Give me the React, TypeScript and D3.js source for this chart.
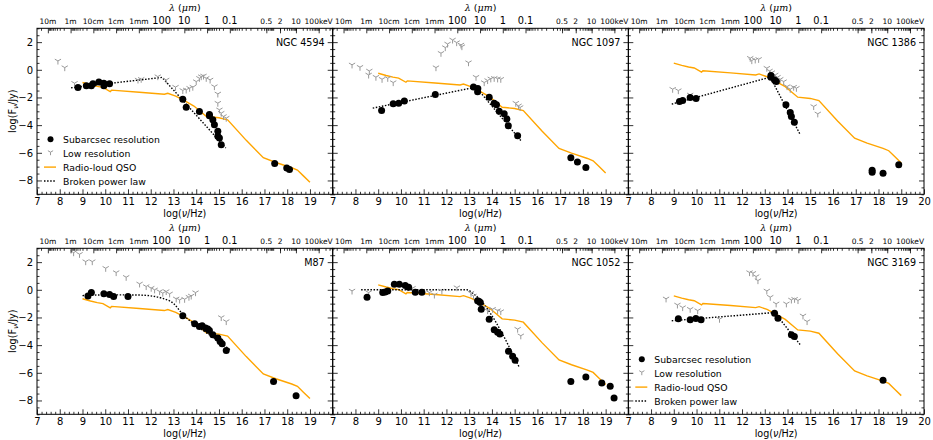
import React, { useEffect, useRef } from 'react';
import * as d3 from 'd3';

type Pt = [number, number];

// radio-loud QSO template (log nu, log F), shifted per panel
const qsoTemplate: Pt[] = [
  [9.0, -0.92], [9.35, -1.08], [9.65, -1.2], [9.9, -1.27], [10.22, -1.57], [10.28, -1.47],
  [11.5, -1.62], [12.6, -1.77], [12.75, -1.7], [13.1, -1.9], [13.5, -2.25], [13.9, -2.62],
  [14.45, -3.38], [15.0, -3.47], [15.38, -3.62], [16.2, -5.1], [16.95, -6.35], [17.5, -6.7],
  [18.2, -7.08], [18.45, -7.25], [18.7, -7.65], [19.0, -8.13]
];

const ngc4594Dots: Pt[] = [
  [8.8, -1.28], [9.17, -1.16], [9.39, -1.16], [9.46, -1.01], [9.72, -0.89], [9.94, -0.97],
  [9.94, -1.16], [10.19, -1.01], [13.41, -2.12], [13.56, -2.7], [14.14, -3.01], [14.58, -3.23],
  [14.58, -3.32], [14.73, -3.61], [14.8, -3.97], [14.95, -4.45], [14.95, -4.81], [15.02, -4.93],
  [15.1, -5.41], [17.45, -6.78], [17.98, -7.1], [18.1, -7.2]
];
const ngc4594Low: Pt[] = [
  [7.92, 0.64], [8.22, 0.16], [8.65, -0.97], [11.44, -0.73], [11.58, -0.68], [12.31, -0.49],
  [12.68, -0.73], [13.09, -1.25], [13.41, -1.49], [13.56, -1.45], [13.71, -1.33], [13.85, -1.25],
  [14.0, -0.85], [14.14, -0.61], [14.22, -0.49], [14.32, -0.44], [14.44, -0.61], [14.61, -0.73],
  [14.8, -1.21], [14.95, -1.74], [14.95, -2.41], [15.02, -2.89], [15.1, -3.13], [15.2, -3.37],
  [15.32, -3.49]
];
const ngc4594Bpl: Pt[] = [[8.5, -1.3], [12.5, -0.55], [15.3, -5.65]];

const ngc1097Dots: Pt[] = [
  [9.15, -2.94], [9.66, -2.46], [9.9, -2.41], [10.15, -2.26], [11.51, -1.78], [13.19, -1.25],
  [13.38, -1.35], [13.37, -1.59], [13.88, -1.98], [14.1, -2.41], [14.2, -2.53], [14.32, -2.99],
  [14.54, -3.18], [14.66, -3.56], [14.72, -4.04], [15.13, -4.76], [17.47, -6.35], [17.76, -6.66],
  [18.13, -7.07]
];
const ngc1097Low: Pt[] = [
  [7.85, 0.36], [8.2, 0.19], [8.61, -0.08], [8.58, -0.37], [8.9, -0.53], [9.17, -0.68],
  [9.42, -0.61], [9.66, -0.92], [11.54, 0.16], [11.76, 1.2], [11.95, 1.61], [12.05, 1.87],
  [12.27, 2.16], [12.45, 1.97], [12.64, 1.8], [12.68, 1.68], [12.97, 0.52], [13.3, -0.53],
  [13.66, -0.92], [13.81, -0.77], [13.95, -0.65], [14.1, -0.61], [14.25, -0.65], [14.39, -0.68],
  [15.05, -2.41], [15.17, -2.6], [15.24, -2.72]
];
const ngc1097Bpl: Pt[] = [[8.76, -2.77], [13.3, -1.25], [15.3, -5.17]];

const ngc1386Dots: Pt[] = [
  [9.25, -2.29], [9.39, -2.22], [9.72, -2.0], [9.98, -2.07], [13.27, -0.41], [13.27, -0.53],
  [13.43, -0.73], [13.51, -0.85], [13.93, -2.53], [14.12, -3.08], [14.17, -3.37], [14.3, -3.8],
  [17.72, -7.26], [17.72, -7.41], [18.2, -7.48], [18.89, -6.86]
];
const ngc1386Low: Pt[] = [
  [8.95, -1.4], [9.2, -1.5], [9.72, -1.81], [12.36, 0.84], [12.43, 0.67], [12.58, 0.72],
  [12.73, 0.76], [13.09, 0.12], [13.21, -0.08], [13.31, -0.2], [13.46, -0.37], [13.56, -0.53],
  [13.68, -0.68], [13.83, -0.85], [13.98, -1.21], [14.12, -1.4], [14.27, -1.25], [14.39, -1.33],
  [15.15, -2.65], [15.33, -3.18]
];
const ngc1386Bpl: Pt[] = [[8.91, -2.48], [13.24, -0.53], [14.56, -4.69]];

const m87Dots: Pt[] = [
  [9.24, -0.44], [9.39, -0.2], [9.94, -0.29], [10.19, -0.34], [10.37, -0.49], [11.0, -0.49],
  [13.41, -1.88], [13.93, -2.46], [14.14, -2.65], [14.26, -2.6], [14.41, -2.77], [14.51, -2.84],
  [14.58, -2.94], [14.73, -3.25], [14.95, -3.49], [15.05, -3.73], [15.14, -3.9], [15.32, -4.38],
  [17.4, -6.62], [18.39, -7.65]
];
const m87Low: Pt[] = [
  [8.61, 2.69], [8.87, 2.57], [9.14, 2.04], [9.43, 2.04], [10.02, 1.56], [10.48, 1.25],
  [10.92, 0.91], [11.51, 0.43], [11.8, 0.24], [12.02, 0.12], [12.17, 0.0], [12.39, -0.12],
  [12.53, -0.24], [12.68, -0.12], [12.83, -0.29], [13.12, -0.65], [13.27, -0.73], [13.49, -0.68],
  [13.68, -0.53], [13.78, -0.44], [13.97, -0.2], [15.1, -2.0], [15.32, -2.29]
];
const m87Bpl: Pt[] = [
  [9.0, -0.42], [10.0, -0.37], [11.0, -0.37], [11.5, -0.38], [12.0, -0.44], [12.5, -0.61],
  [13.0, -0.98], [13.4, -1.76], [14.1, -2.7], [14.8, -3.5], [15.5, -4.35]
];

const ngc1052Dots: Pt[] = [
  [8.51, -0.53], [9.2, -0.2], [9.31, -0.15], [9.42, -0.08], [9.71, 0.4], [9.93, 0.4],
  [10.19, 0.31], [10.34, 0.19], [10.63, -0.17], [10.92, -0.17], [13.37, -0.8], [13.44, -0.85],
  [13.49, -0.92], [13.53, -1.4], [13.88, -2.12], [14.1, -2.89], [14.25, -3.06], [14.35, -3.2],
  [14.73, -4.45], [14.91, -4.81], [15.02, -5.1], [17.47, -6.62], [18.13, -6.3], [18.83, -6.74],
  [19.2, -6.98], [19.37, -7.82]
];
const ngc1052Low: Pt[] = [
  [7.85, -0.08], [8.58, -0.2], [10.51, 0.12], [11.25, -0.2], [11.47, -0.37], [11.8, -0.08],
  [12.46, 0.16], [13.08, -0.24], [13.19, -0.44], [13.59, -1.33], [13.81, -1.5], [14.03, -1.4],
  [14.25, -1.5], [14.39, -1.57], [15.13, -2.84], [15.27, -3.32]
];
const ngc1052Bpl: Pt[] = [[8.25, 0.0], [12.9, 0.0], [13.2, -0.3], [15.2, -5.6]];

const ngc3169Dots: Pt[] = [
  [9.2, -2.1], [9.72, -2.17], [9.97, -2.07], [10.2, -2.17], [13.43, -1.69], [13.58, -2.05],
  [14.17, -3.25], [14.3, -3.37], [18.2, -6.54]
];
const ngc3169Low: Pt[] = [
  [8.66, -0.65], [9.16, -1.09], [9.39, -1.28], [9.72, -1.4], [10.05, -1.5], [11.01, -2.12],
  [12.33, 1.25], [12.48, 1.2], [12.62, 0.96], [12.7, 0.67], [13.09, -0.08], [13.24, -0.53],
  [13.5, -1.01], [13.95, -1.01], [14.17, -0.73], [14.31, -0.68], [14.46, -0.77], [14.68, -1.88],
  [14.86, -2.29]
];
const ngc3169Bpl: Pt[] = [[8.91, -2.24], [13.43, -1.64], [14.56, -3.97]];

const panelNames = ['NGC 4594', 'NGC 1097', 'NGC 1386', 'M87', 'NGC 1052', 'NGC 3169'];
const qsoOffsets = [0, 0.67, 1.4, 0.27, 1.28, 0.48];

// top axis: wavelengths (m) and energies (keV)
const lambdaValues = [10, 1, 0.1, 0.01, 0.001, 1e-4, 1e-5, 1e-6, 1e-7];
const lambdaLabels = ['10m', '1m', '10cm', '1cm', '1mm', '100', '10', '1', '0.1'];
const lambdaBig = [false, false, false, false, false, true, true, true, true];
const energyValues = [0.5, 2, 10, 100];
const energyLabels = ['0.5', '2', '10', '100keV'];

const legendLabels = ['Subarcsec resolution', 'Low resolution', 'Radio-loud QSO', 'Broken power law'];

const W = 933;
const H = 440;
const FONT = 'DejaVu Sans, sans-serif';
const ORANGE = '#ffa500';
const GRAY = '#999999';

const nuFromLambda = (l: number) => Math.log10(2.998e8 / l);
const nuFromKeV = (e: number) => Math.log10(e * 2.418e17);

const App: React.FC = () => {
  const svgRef = useRef<SVGSVGElement>(null);

  useEffect(() => {
    if (!svgRef.current) return;
    const svg = d3.select(svgRef.current);
    svg.selectAll('*').remove();

    const colX = [37, 332.7, 628.3];
    const rowY = [28.3, 248.3];
    const pw = 295.7;
    const ph = 166;

    const panels = [
      { dots: ngc4594Dots, low: ngc4594Low, bpl: ngc4594Bpl, smooth: false, legend: true },
      { dots: ngc1097Dots, low: ngc1097Low, bpl: ngc1097Bpl, smooth: false, legend: false },
      { dots: ngc1386Dots, low: ngc1386Low, bpl: ngc1386Bpl, smooth: false, legend: false },
      { dots: m87Dots, low: m87Low, bpl: m87Bpl, smooth: true, legend: false },
      { dots: ngc1052Dots, low: ngc1052Low, bpl: ngc1052Bpl, smooth: true, legend: false },
      { dots: ngc3169Dots, low: ngc3169Low, bpl: ngc3169Bpl, smooth: false, legend: true }
    ];

    const triDown = (cx: number, cy: number, r: number) =>
      `M${cx},${cy}L${cx},${cy + r}M${cx},${cy}L${cx - r * 0.866},${cy - r * 0.5}M${cx},${cy}L${cx + r * 0.866},${cy - r * 0.5}`;

    // minor tick positions for top axis
    const topMinor: number[] = [];
    for (let n = -8; n <= 1; n++) {
      for (let k = 2; k <= 9; k++) topMinor.push(nuFromLambda(k * Math.pow(10, n)));
    }
    for (let n = -1; n <= 2; n++) {
      for (let k = 1; k <= 9; k++) topMinor.push(nuFromKeV(k * Math.pow(10, n)));
    }

    panels.forEach((p, i) => {
      const col = i % 3;
      const row = Math.floor(i / 3);
      const left = colX[col];
      const top = rowY[row];
      const x = d3.scaleLinear().domain([7, 20]).range([left, left + pw]);
      const y = d3.scaleLinear().domain([-9, 3]).range([top + ph, top]);
      const g = svg.append('g');

      // clip
      const clipId = `clip${i}`;
      g.append('clipPath').attr('id', clipId)
        .append('rect').attr('x', left).attr('y', top).attr('width', pw).attr('height', ph);
      const plot = g.append('g').attr('clip-path', `url(#${clipId})`);

      const line = d3.line<Pt>().x(d => x(d[0])).y(d => y(d[1]));

      const qso = qsoTemplate.map(d => [d[0], d[1] + qsoOffsets[i]] as Pt);
      plot.append('path').attr('d', line(qso)).attr('fill', 'none')
        .attr('stroke', ORANGE).attr('stroke-width', 1.4);

      const bplLine = d3.line<Pt>().x(d => x(d[0])).y(d => y(d[1]))
        .curve(p.smooth ? d3.curveMonotoneX : d3.curveLinear);
      plot.append('path').attr('d', bplLine(p.bpl)).attr('fill', 'none')
        .attr('stroke', '#000').attr('stroke-width', 1.4).attr('stroke-dasharray', '1.5,1.6');

      plot.selectAll('.low').data(p.low).enter().append('path')
        .attr('d', d => triDown(x(d[0]), y(d[1]), 3.6))
        .attr('stroke', GRAY).attr('stroke-width', 1).attr('fill', 'none');

      plot.selectAll('.dot').data(p.dots).enter().append('circle')
        .attr('cx', d => x(d[0])).attr('cy', d => y(d[1])).attr('r', 3.5).attr('fill', '#000');

      // axes
      const styleAxis = (sel: any, fs: number) => {
        sel.select('.domain').remove();
        sel.selectAll('line').attr('stroke', '#000').attr('stroke-width', 0.8);
        sel.selectAll('text').attr('font-family', FONT).attr('font-size', fs).attr('fill', '#000');
        sel.attr('font-family', null).attr('font-size', null);
      };

      const xMajor = d3.range(7, col === 2 ? 21 : 20, 1);
      const xMinor = d3.range(7, 20.01, 0.2).filter(v => Math.abs(v - Math.round(v)) > 0.01);
      const yMajor = d3.range(-8, 3, 2);
      const yMinor = d3.range(-9, 3.01, 0.5).filter(v => !yMajor.includes(v));

      const bot = g.append('g').attr('transform', `translate(0,${top + ph})`)
        .call(d3.axisBottom(x).tickValues(xMajor).tickSize(-5).tickSizeOuter(0).tickPadding(4).tickFormat(d3.format('d')) as any);
      styleAxis(bot, 10);
      const botMin = g.append('g').attr('transform', `translate(0,${top + ph})`)
        .call(d3.axisBottom(x).tickValues(xMinor).tickSize(-2.5).tickSizeOuter(0).tickFormat(() => '') as any);
      styleAxis(botMin, 10);

      const leftAx = g.append('g').attr('transform', `translate(${left},0)`)
        .call(d3.axisLeft(y).tickValues(yMajor).tickSize(-5).tickSizeOuter(0).tickPadding(4)
          .tickFormat(col === 0 ? (d3.format('d') as any) : () => '') as any);
      styleAxis(leftAx, 10);
      const leftMin = g.append('g').attr('transform', `translate(${left},0)`)
        .call(d3.axisLeft(y).tickValues(yMinor).tickSize(-2.5).tickSizeOuter(0).tickFormat(() => '') as any);
      styleAxis(leftMin, 10);
      const rightAx = g.append('g').attr('transform', `translate(${left + pw},0)`)
        .call(d3.axisRight(y).tickValues(yMajor).tickSize(-5).tickSizeOuter(0).tickFormat(() => '') as any);
      styleAxis(rightAx, 10);
      const rightMin = g.append('g').attr('transform', `translate(${left + pw},0)`)
        .call(d3.axisRight(y).tickValues(yMinor).tickSize(-2.5).tickSizeOuter(0).tickFormat(() => '') as any);
      styleAxis(rightMin, 10);

      // top axis (wavelength / energy)
      const topMaj = lambdaValues.map(nuFromLambda).concat(energyValues.map(nuFromKeV));
      const topAx = g.append('g').attr('transform', `translate(0,${top})`)
        .call(d3.axisTop(x).tickValues(topMaj).tickSize(-5).tickSizeOuter(0).tickFormat(() => '') as any);
      styleAxis(topAx, 8);
      const topMin = g.append('g').attr('transform', `translate(0,${top})`)
        .call(d3.axisTop(x).tickValues(topMinor.filter(v => v > 7 && v < 20)).tickSize(-2.5).tickSizeOuter(0).tickFormat(() => '') as any);
      styleAxis(topMin, 8);

      lambdaValues.forEach((l, k) => {
        g.append('text').attr('x', x(nuFromLambda(l))).attr('y', top - 4)
          .attr('text-anchor', 'middle').attr('font-family', FONT)
          .attr('font-size', lambdaBig[k] ? 9.8 : 7.5).text(lambdaLabels[k]);
      });
      energyValues.forEach((e, k) => {
        g.append('text').attr('x', x(nuFromKeV(e))).attr('y', top - 4)
          .attr('text-anchor', 'middle').attr('font-family', FONT)
          .attr('font-size', 7.5).text(energyLabels[k]);
      });

      // lambda title
      const lt = g.append('text').attr('x', left + pw / 2).attr('y', top - 17)
        .attr('text-anchor', 'middle').attr('font-family', FONT).attr('font-size', 9.5);
      lt.append('tspan').attr('font-style', 'italic').attr('font-family', 'DejaVu Serif, serif').text('λ');
      lt.append('tspan').text(' (');
      lt.append('tspan').attr('font-style', 'italic').attr('font-family', 'DejaVu Serif, serif').text('μm');
      lt.append('tspan').text(')');

      // frame
      g.append('rect').attr('x', left).attr('y', top).attr('width', pw).attr('height', ph)
        .attr('fill', 'none').attr('stroke', '#000').attr('stroke-width', 1);

      // name
      g.append('text').attr('x', left + pw - 8).attr('y', top + 18)
        .attr('text-anchor', 'end').attr('font-family', FONT).attr('font-size', 9.6).text(panelNames[i]);

      // x label
      const xl = g.append('text').attr('x', left + pw / 2).attr('y', top + ph + 22.5)
        .attr('text-anchor', 'middle').attr('font-family', FONT).attr('font-size', 9.6);
      xl.append('tspan').text('log(');
      xl.append('tspan').attr('font-style', 'italic').text('ν');
      xl.append('tspan').text('/Hz)');

      if (col === 0) {
        const yl = g.append('text')
          .attr('transform', `translate(16,${top + ph / 2}) rotate(-90)`)
          .attr('text-anchor', 'middle').attr('font-family', FONT).attr('font-size', 9.6);
        yl.append('tspan').text('log(F');
        yl.append('tspan').attr('font-style', 'italic').attr('font-size', 7.2).attr('dy', 2).text('ν');
        yl.append('tspan').attr('dy', -2).text('/Jy)');
      }

      if (p.legend) {
        const lx = left + 13.5;
        const ly0 = top + 111;
        const dy = 13.9;
        legendLabels.forEach((lab, k) => {
          const cy = ly0 + k * dy;
          if (k === 0) g.append('circle').attr('cx', lx).attr('cy', cy).attr('r', 3).attr('fill', '#000');
          if (k === 1) g.append('path').attr('d', triDown(lx, cy - 1, 3)).attr('stroke', GRAY).attr('fill', 'none');
          if (k === 2) g.append('line').attr('x1', lx - 6.5).attr('x2', lx + 5.5).attr('y1', cy).attr('y2', cy)
            .attr('stroke', ORANGE).attr('stroke-width', 1.4);
          if (k === 3) g.append('line').attr('x1', lx - 6.5).attr('x2', lx + 5.5).attr('y1', cy).attr('y2', cy)
            .attr('stroke', '#000').attr('stroke-width', 1.4).attr('stroke-dasharray', '1.5,1.6');
          g.append('text').attr('x', lx + 12.5).attr('y', cy + 3.5).attr('font-family', FONT)
            .attr('font-size', 9.3).text(lab);
        });
      }
    });
  }, []);

  return (
    <svg ref={svgRef} width={W} height={H}
      style={{ position: 'absolute', left: 0, top: 0, background: '#fff' }} />
  );
};

export default App;
